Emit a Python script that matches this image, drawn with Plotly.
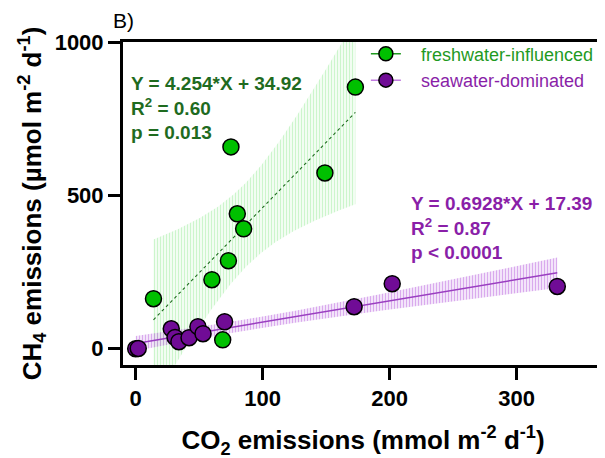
import numpy as np
import plotly.graph_objects as go

# ---- data ----
fresh_x = [14, 60, 73, 80, 85, 75, 149, 173, 68.5]
fresh_y = [163, 225, 287, 440, 391, 658, 573, 853, 29]
sea_x = [0, 2, 28, 31, 34, 42, 49, 53, 70, 172, 202, 332]
sea_y = [0, 1, 65, 37, 23, 36, 72, 49, 88, 137, 212, 203]

fresh_fit = (4.254, 34.92)   # slope, intercept
sea_fit = (0.6928, 17.39)
fresh_stats = ["Y = 4.254*X + 34.92", "R<sup>2</sup> = 0.60", "p = 0.013"]
sea_stats = ["Y = 0.6928*X + 17.39", "R<sup>2</sup> = 0.87", "p < 0.0001"]

x_ticks = [0, 100, 200, 300]
y_ticks = [0, 500, 1000]

GREEN = "#00c000"
GREEN_DARK = "#1f6b1f"
GREEN_LEG = "#1f9a1f"
PURPLE = "#700c96"
PURPLE_TXT = "#8a1fa8"
PURPLE_LINE = "#9a3fc0"


def conf_band(xs, ys, fit, n=120):
    xs = np.asarray(xs, float)
    ys = np.asarray(ys, float)
    m, b = fit
    res = ys - (m * xs + b)
    dof = len(xs) - 2
    s = np.sqrt(np.sum(res ** 2) / dof)
    tval = {7: 2.365, 10: 2.228}.get(dof, 2.2)
    xm = xs.mean()
    sxx = np.sum((xs - xm) ** 2)
    gx = np.linspace(xs.min(), xs.max(), n)
    gy = m * gx + b
    half = tval * s * np.sqrt(1.0 / len(xs) + (gx - xm) ** 2 / sxx)
    return gx, gy, gy - half, gy + half


FONT = "Liberation Sans, Arial, sans-serif"
fig = go.Figure()

fgx, fgy, flo, fhi = conf_band(fresh_x, fresh_y, fresh_fit)
sgx, sgy, slo, shi = conf_band(sea_x, sea_y, sea_fit)

# confidence bands (green first, purple on top)
for gx, lo, hi, col, sol in [(fgx, flo, fhi, "#9aec9a", 0.5), (sgx, slo, shi, "#b455dc", 0.55)]:
    fig.add_trace(go.Scatter(x=gx, y=lo, mode="lines", line=dict(width=0),
                             showlegend=False, hoverinfo="skip"))
    fig.add_trace(go.Scatter(x=gx, y=hi, mode="lines", line=dict(width=0),
                             fill="tonexty", fillcolor="rgba(0,0,0,0)",
                             fillpattern=dict(shape="|", size=3, solidity=sol,
                                              fgcolor=col, bgcolor="rgba(255,255,255,0)"),
                             showlegend=False, hoverinfo="skip"))

# regression lines
fig.add_trace(go.Scatter(x=fgx, y=fgy, mode="lines",
                         line=dict(color=GREEN_DARK, width=1.1, dash="dot"),
                         showlegend=False, hoverinfo="skip"))
fig.add_trace(go.Scatter(x=sgx, y=sgy, mode="lines",
                         line=dict(color=PURPLE_LINE, width=1.5),
                         showlegend=False, hoverinfo="skip"))

# points
fig.add_trace(go.Scatter(x=fresh_x, y=fresh_y, mode="markers",
                         marker=dict(size=16, color=GREEN, line=dict(color="black", width=1.5)),
                         showlegend=False))
fig.add_trace(go.Scatter(x=sea_x, y=sea_y, mode="markers",
                         marker=dict(size=16, color=PURPLE, line=dict(color="black", width=1.5)),
                         showlegend=False))

# legend entries
fig.add_trace(go.Scatter(x=[None], y=[None], mode="lines+markers",
                         name=f"&nbsp;&nbsp;&nbsp;<span style='color:{GREEN_LEG}'>freshwater-influenced</span>",
                         marker=dict(size=14, color=GREEN, line=dict(color="black", width=1.5)),
                         line=dict(color=GREEN_LEG, width=1.5)))
fig.add_trace(go.Scatter(x=[None], y=[None], mode="lines+markers",
                         name=f"&nbsp;&nbsp;&nbsp;<span style='color:{PURPLE_TXT}'>seawater-dominated</span>",
                         marker=dict(size=14, color=PURPLE, line=dict(color="black", width=1.5)),
                         line=dict(color="#c27ce0", width=1.5)))

fig.add_annotation(x=-5.5, y=785, xref="x", yref="y", xanchor="left", yanchor="middle",
                   align="left", showarrow=False,
                   text="<b>" + "<br>".join(fresh_stats) + "</b>",
                   font=dict(family=FONT, size=19, color=GREEN_DARK))
fig.add_annotation(x=215, y=394, xref="x", yref="y", xanchor="left", yanchor="middle",
                   align="left", showarrow=False,
                   text="<b>" + "<br>".join(sea_stats) + "</b>",
                   font=dict(family=FONT, size=19, color=PURPLE_TXT))
fig.add_annotation(x=-0.022, y=1.105, xref="paper", yref="paper", xanchor="left", yanchor="top",
                   showarrow=False, borderpad=0, text="B)",
                   font=dict(family=FONT, size=21, color="black"))

axis_common = dict(showgrid=False, zeroline=False, showline=True, linecolor="black", linewidth=3,
                   mirror=True, ticks="outside", ticklen=12, tickwidth=3, tickcolor="black",
                   tickfont=dict(family=FONT, size=22, color="black", weight="bold"))

# page body has an 8px margin, so the layout is shifted up/left by 8px
fig.update_layout(
    width=605, height=458,
    margin=dict(l=115, r=10, t=34, b=101, autoexpand=False),
    paper_bgcolor="white", plot_bgcolor="white",
    font=dict(family=FONT, color="black"),
    xaxis=dict(range=[-10, 368], tickvals=x_ticks,
               title=dict(text="<b>CO<sub>2</sub> emissions (mmol m<sup>-2</sup> d<sup>-1</sup>)</b>",
                          font=dict(family=FONT, size=26), standoff=21),
               **axis_common),
    yaxis=dict(range=[-53, 1000], tickvals=y_ticks,
               title=dict(text="<b>CH<sub>4</sub> emissions (µmol m<sup>-2</sup> d<sup>-1</sup>)</b>",
                          font=dict(family=FONT, size=26), standoff=6),
               **axis_common),
    legend=dict(x=0.506, y=1.02, xanchor="left", yanchor="top", bgcolor="rgba(0,0,0,0)",
                font=dict(family=FONT, size=18), tracegroupgap=0, itemwidth=30,
                traceorder="normal"),
    showlegend=True,
)

fig.write_html("out.html")
